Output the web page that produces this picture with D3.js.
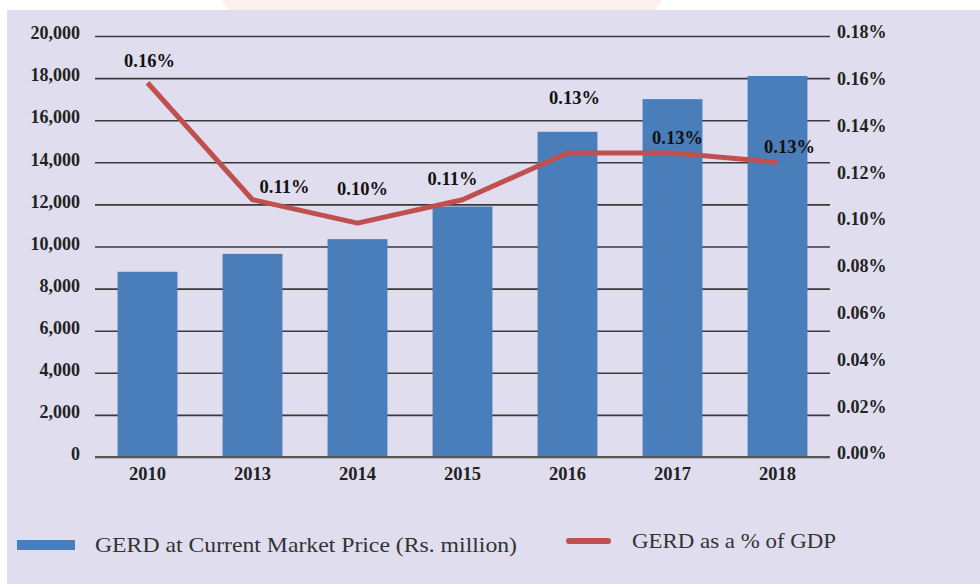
<!DOCTYPE html>
<html>
<head>
<meta charset="utf-8">
<script src="https://d3js.org/d3.v7.min.js"></script>
<style>
  body { margin: 0; background: #fff; }
  svg { display: block; }
  text { font-family: "Liberation Serif", "Times New Roman", serif; }
</style>
</head>
<body>
<script>
// chart values
var years = ["2010", "2013", "2014", "2015", "2016", "2017", "2018"];
var gerdValues = [8800, 9650, 10350, 11900, 15450, 17000, 18100];
var gdpShare = [0.16, 0.11, 0.10, 0.11, 0.13, 0.13, 0.126];
var shareLabels = ["0.16%", "0.11%", "0.10%", "0.11%", "0.13%", "0.13%", "0.13%"];
var leftTicks = [0, 2000, 4000, 6000, 8000, 10000, 12000, 14000, 16000, 18000, 20000];
var rightTicks = [0, 0.02, 0.04, 0.06, 0.08, 0.10, 0.12, 0.14, 0.16, 0.18];

// hand placed label nudges (px) as in the original
var labelNudge = [[2, -22], [32, -13], [5, -35], [-10, -21], [7, -55], [5, -15], [12, -16]];

var W = 980, H = 584;
var plot = {left: 95, right: 830, top: 36, bottom: 457};

var svg = d3.select("body").append("svg")
    .attr("width", W)
    .attr("height", H);

// background
svg.append("rect").attr("width", W).attr("height", H).attr("fill", "#ffffff");
svg.append("path")
    .attr("d", "M222,0 L662,0 L655,10 L228,10 Z")
    .attr("fill", "#fdf0ee");
svg.append("rect")
    .attr("x", 7).attr("y", 10)
    .attr("width", W - 7).attr("height", H - 10)
    .attr("fill", "#e0ddee");

var x = d3.scaleBand()
    .domain(years)
    .range([plot.left, plot.right])
    .paddingInner(0.43)
    .paddingOuter(0.215);

var y = d3.scaleLinear().domain([0, 20000]).range([plot.bottom, plot.top]);
var y1 = d3.scaleLinear().domain([0, 0.18]).range([plot.bottom, plot.top]);

// gridlines + left axis
var leftAxis = svg.append("g")
    .attr("transform", "translate(" + plot.left + ",0)")
    .call(d3.axisLeft(y)
        .tickValues(leftTicks)
        .tickSize(-(plot.right - plot.left))
        .tickPadding(15)
        .tickFormat(d3.format(",")));
leftAxis.select(".domain").remove();
leftAxis.selectAll("line")
    .attr("stroke", "#3a3a3a")
    .attr("stroke-width", 1.6);
leftAxis.selectAll("text")
    .attr("fill", "#222")
    .attr("font-size", "18px")
    .attr("font-weight", "bold")
    .attr("dy", "0.15em");

// bars
svg.selectAll(".bar")
    .data(gerdValues)
    .enter().append("rect")
    .attr("class", "bar")
    .attr("x", function(d, i) { return x(years[i]); })
    .attr("width", x.bandwidth())
    .attr("y", function(d) { return y(d); })
    .attr("height", function(d) { return y(0) - y(d); })
    .attr("fill", "#4a7ebb");

// baseline over bars
svg.append("line")
    .attr("x1", plot.left).attr("x2", plot.right)
    .attr("y1", y(0)).attr("y2", y(0))
    .attr("stroke", "#555").attr("stroke-width", 1.8);

// right axis (labels only)
var rightAxis = svg.append("g")
    .attr("transform", "translate(" + plot.right + ",0)")
    .call(d3.axisRight(y1)
        .tickValues(rightTicks)
        .tickSize(0)
        .tickPadding(7)
        .tickFormat(d3.format(".2f")));
rightAxis.select(".domain").remove();
rightAxis.selectAll("text")
    .text(function(d) { return d3.format(".2f")(d) + "%"; })
    .attr("fill", "#222")
    .attr("font-size", "18px")
    .attr("font-weight", "bold")
    .attr("dy", "0.1em");

// x axis labels
var xAxis = svg.append("g")
    .attr("transform", "translate(0," + plot.bottom + ")")
    .call(d3.axisBottom(x).tickSize(0).tickPadding(10));
xAxis.select(".domain").remove();
xAxis.selectAll("text")
    .attr("fill", "#222")
    .attr("font-size", "18.5px")
    .attr("font-weight", "bold");

// line
var line = d3.line()
    .x(function(d, i) { return x(years[i]) + x.bandwidth() / 2; })
    .y(function(d) { return y1(d); });

svg.append("path")
    .datum(gdpShare)
    .attr("fill", "none")
    .attr("stroke", "#c0504d")
    .attr("stroke-width", 5)
    .attr("stroke-linejoin", "round")
    .attr("d", line);

// data labels
svg.selectAll(".lbl")
    .data(gdpShare)
    .enter().append("text")
    .attr("class", "lbl")
    .attr("x", function(d, i) { return x(years[i]) + x.bandwidth() / 2 + labelNudge[i][0]; })
    .attr("y", function(d, i) { return y1(d) + labelNudge[i][1]; })
    .attr("dy", "0.35em")
    .attr("text-anchor", "middle")
    .attr("font-size", "18.5px")
    .attr("font-weight", "bold")
    .attr("fill", "#111")
    .text(function(d, i) { return shareLabels[i]; });

// legend
var legend = svg.append("g");
legend.append("rect")
    .attr("x", 17).attr("y", 540)
    .attr("width", 58).attr("height", 10)
    .attr("fill", "#4a7ebb");
legend.append("text")
    .attr("x", 95).attr("y", 552)
    .attr("font-size", "22px")
    .attr("fill", "#333")
    .attr("textLength", 422)
    .attr("lengthAdjust", "spacingAndGlyphs")
    .text("GERD at Current Market Price (Rs. million)");
legend.append("line")
    .attr("x1", 569).attr("x2", 608)
    .attr("y1", 541).attr("y2", 541)
    .attr("stroke", "#c0504d")
    .attr("stroke-width", 6)
    .attr("stroke-linecap", "round");
legend.append("text")
    .attr("x", 632).attr("y", 548)
    .attr("font-size", "22px")
    .attr("fill", "#333")
    .attr("textLength", 204)
    .attr("lengthAdjust", "spacingAndGlyphs")
    .text("GERD as a % of GDP");
</script>
</body>
</html>
